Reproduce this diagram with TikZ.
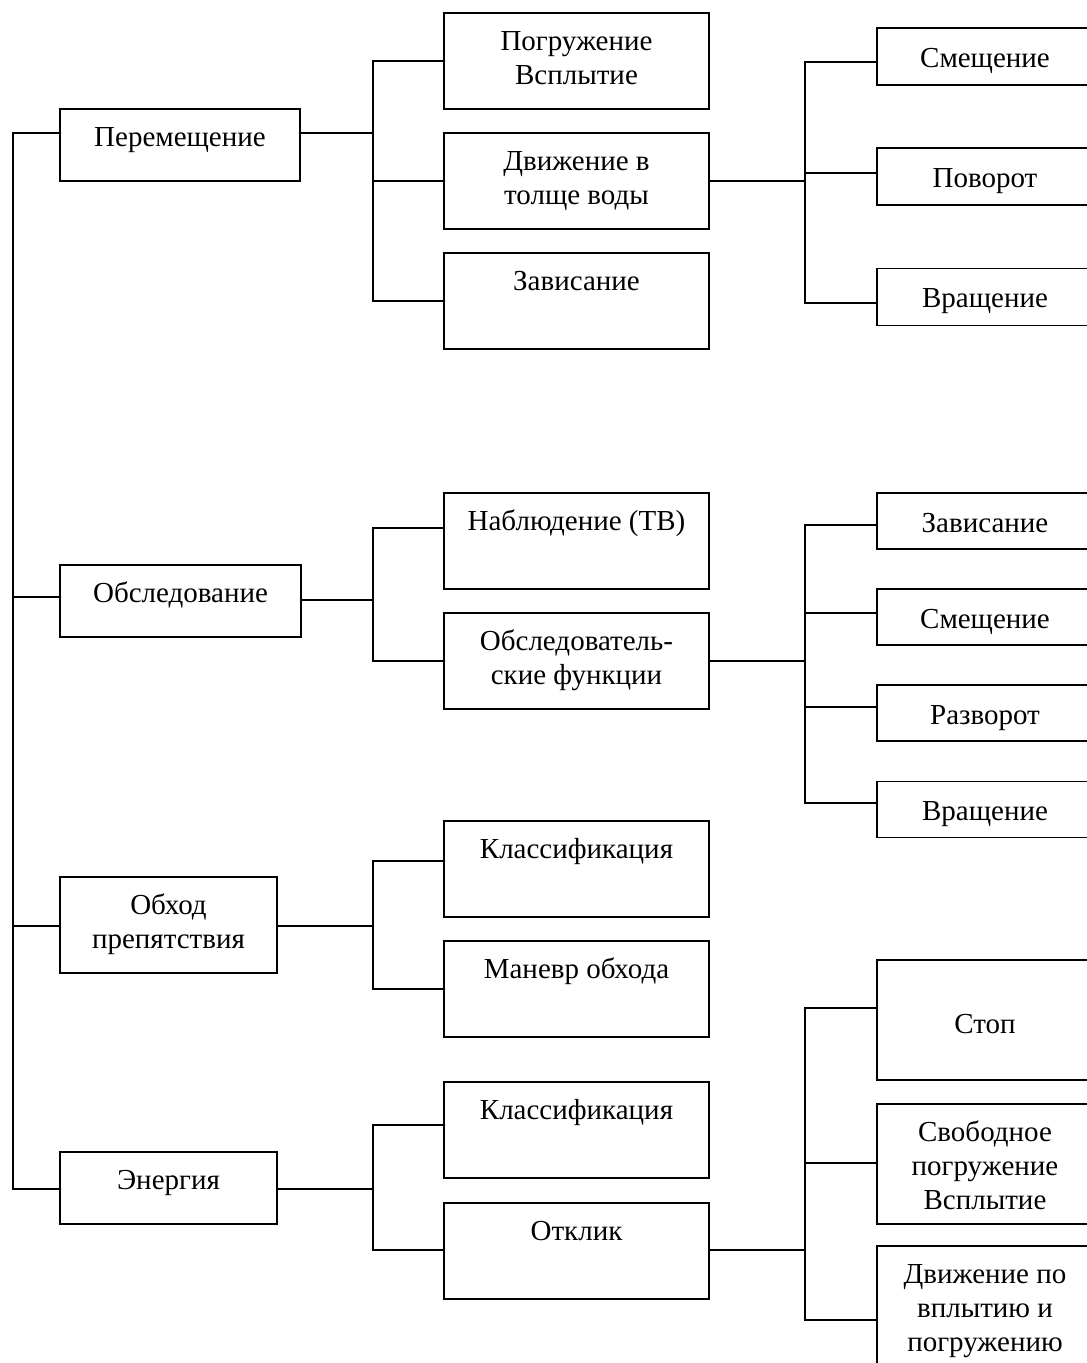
\documentclass[tikz,border=0pt]{standalone}
\usepackage{fontspec}
\setmainfont{Liberation Serif}
\begin{document}
\begin{tikzpicture}[x=1pt,y=-1pt,
  box/.style={draw,line width=1.8pt,rectangle,inner sep=0pt,outer sep=0pt},
  ln/.style={line width=1.8pt},
  txt/.style={inner sep=0pt,outer sep=0pt,align=center,anchor=north,font=\fontsize{29}{34}\selectfont}]
\useasboundingbox (0,0) rectangle (1087,1363);
\clip (0,0) rectangle (1087,1363);

% level 1
\node[box,minimum width=240,minimum height=72] (P1) at (180,145) {};
\node[box,minimum width=241,minimum height=72] (P2) at (180.5,601) {};
\node[box,minimum width=217,minimum height=96] (P3) at (168.5,925) {};
\node[box,minimum width=217,minimum height=72] (P4) at (168.5,1188) {};
\node[txt] (tP1) at ([yshift=-13.7pt]P1.north) {\strut Перемещение};
\node[txt] (tP2) at ([yshift=-13.7pt]P2.north) {\strut Обследование};
\node[txt] (tP3) at ([yshift=-13.7pt]P3.north) {\strut Обход\\препятствия};
\node[txt] (tP4) at ([yshift=-13.7pt]P4.north) {\strut Энергия};

% level 2
\foreach \n/\y in {A1/61,A2/181,A3/301,B1/541,B2/661,C1/869,C2/989,D1/1130,D2/1251}
  \node[box,minimum width=265,minimum height=96] (\n) at (576.5,\y) {};
\node[txt] (tA1) at ([yshift=-13.7pt]A1.north) {\strut Погружение\\Всплытие};
\node[txt] (tA2) at ([yshift=-13.7pt]A2.north) {\strut Движение в\\толще воды};
\node[txt] (tA3) at ([yshift=-13.7pt]A3.north) {\strut Зависание};
\node[txt] (tB1) at ([yshift=-13.7pt]B1.north) {\strut Наблюдение (ТВ)};
\node[txt] (tB2) at ([yshift=-13.7pt]B2.north) {\strut Обследователь-\\ские функции};
\node[txt] (tC1) at ([yshift=-13.7pt]C1.north) {\strut Классификация};
\node[txt] (tC2) at ([yshift=-13.7pt]C2.north) {\strut Маневр обхода};
\node[txt] (tD1) at ([yshift=-13.7pt]D1.north) {\strut Классификация};
\node[txt] (tD2) at ([yshift=-13.7pt]D2.north) {\strut Отклик};

% level 3
\foreach \n/\y in {E1/56.5,E2/176.5,E3/297}
  \node[box,minimum width=216,minimum height=57] (\n) at (985,\y) {};
\foreach \n/\y in {F1/521,F2/617,F3/713,F4/809.5}
  \node[box,minimum width=216,minimum height=56] (\n) at (985,\y) {};
\foreach \n/\y in {G1/1020,G2/1164,G3/1306}
  \node[box,minimum width=216,minimum height=120] (\n) at (985,\y) {};
\node[txt] (tE1) at ([yshift=-15.2pt]E1.north) {\strut Смещение};
\node[txt] (tE2) at ([yshift=-15.2pt]E2.north) {\strut Поворот};
\node[txt] (tE3) at ([yshift=-15.2pt]E3.north) {\strut Вращение};
\node[txt] (tF1) at ([yshift=-15.2pt]F1.north) {\strut Зависание};
\node[txt] (tF2) at ([yshift=-15.2pt]F2.north) {\strut Смещение};
\node[txt] (tF3) at ([yshift=-15.2pt]F3.north) {\strut Разворот};
\node[txt] (tF4) at ([yshift=-15.2pt]F4.north) {\strut Вращение};
\node[txt] (tG1) at ([yshift=-49.2pt]G1.north) {\strut Стоп};
\node[txt] (tG2) at ([yshift=-13.7pt]G2.north) {\strut Свободное\\погружение\\Всплытие};
\node[txt] (tG3) at ([yshift=-13.7pt]G3.north) {\strut Движение по\\вплытию и\\погружению};

% connector coordinates
\coordinate (r1) at (13,133); \coordinate (r2) at (13,597);
\coordinate (r3) at (13,926); \coordinate (r4) at (13,1189);
\coordinate (a0) at (373,133); \coordinate (a1) at (373,61);
\coordinate (a2) at (373,181); \coordinate (a3) at (373,301);
\coordinate (b0) at (373,600); \coordinate (b1) at (373,528); \coordinate (b2) at (373,661);
\coordinate (c0) at (373,926); \coordinate (c1) at (373,861); \coordinate (c2) at (373,989);
\coordinate (d0) at (373,1189); \coordinate (d1) at (373,1125); \coordinate (d2) at (373,1250);
\coordinate (e0) at (805,181); \coordinate (e1) at (805,62); \coordinate (e2) at (805,173); \coordinate (e3) at (805,303);
\coordinate (f0) at (805,661); \coordinate (f1) at (805,525); \coordinate (f2) at (805,613);
\coordinate (f3) at (805,707); \coordinate (f4) at (805,803);
\coordinate (g0) at (805,1250); \coordinate (g1) at (805,1008); \coordinate (g2) at (805,1163); \coordinate (g3) at (805,1320);

% root spine
\draw[ln] (r1 -| P1.west) -- (r1) -- (r4) -- (r4 -| P4.west);
\draw[ln] (r2) -- (r2 -| P2.west);
\draw[ln] (r3) -- (r3 -| P3.west);

% level 1 -> level 2
\draw[ln] (a0 -| P1.east) -- (a0);
\draw[ln] (a1 -| A1.west) -- (a1) -- (a3) -- (a3 -| A3.west);
\draw[ln] (a2) -- (a2 -| A2.west);
\draw[ln] (b0 -| P2.east) -- (b0);
\draw[ln] (b1 -| B1.west) -- (b1) -- (b2) -- (b2 -| B2.west);
\draw[ln] (c0 -| P3.east) -- (c0);
\draw[ln] (c1 -| C1.west) -- (c1) -- (c2) -- (c2 -| C2.west);
\draw[ln] (d0 -| P4.east) -- (d0);
\draw[ln] (d1 -| D1.west) -- (d1) -- (d2) -- (d2 -| D2.west);

% level 2 -> level 3
\draw[ln] (e0 -| A2.east) -- (e0);
\draw[ln] (e1 -| E1.west) -- (e1) -- (e3) -- (e3 -| E3.west);
\draw[ln] (e2) -- (e2 -| E2.west);
\draw[ln] (f0 -| B2.east) -- (f0);
\draw[ln] (f1 -| F1.west) -- (f1) -- (f4) -- (f4 -| F4.west);
\draw[ln] (f2) -- (f2 -| F2.west);
\draw[ln] (f3) -- (f3 -| F3.west);
\draw[ln] (g0 -| D2.east) -- (g0);
\draw[ln] (g1 -| G1.west) -- (g1) -- (g3) -- (g3 -| G3.west);
\draw[ln] (g2) -- (g2 -| G2.west);
\end{tikzpicture}
\end{document}
